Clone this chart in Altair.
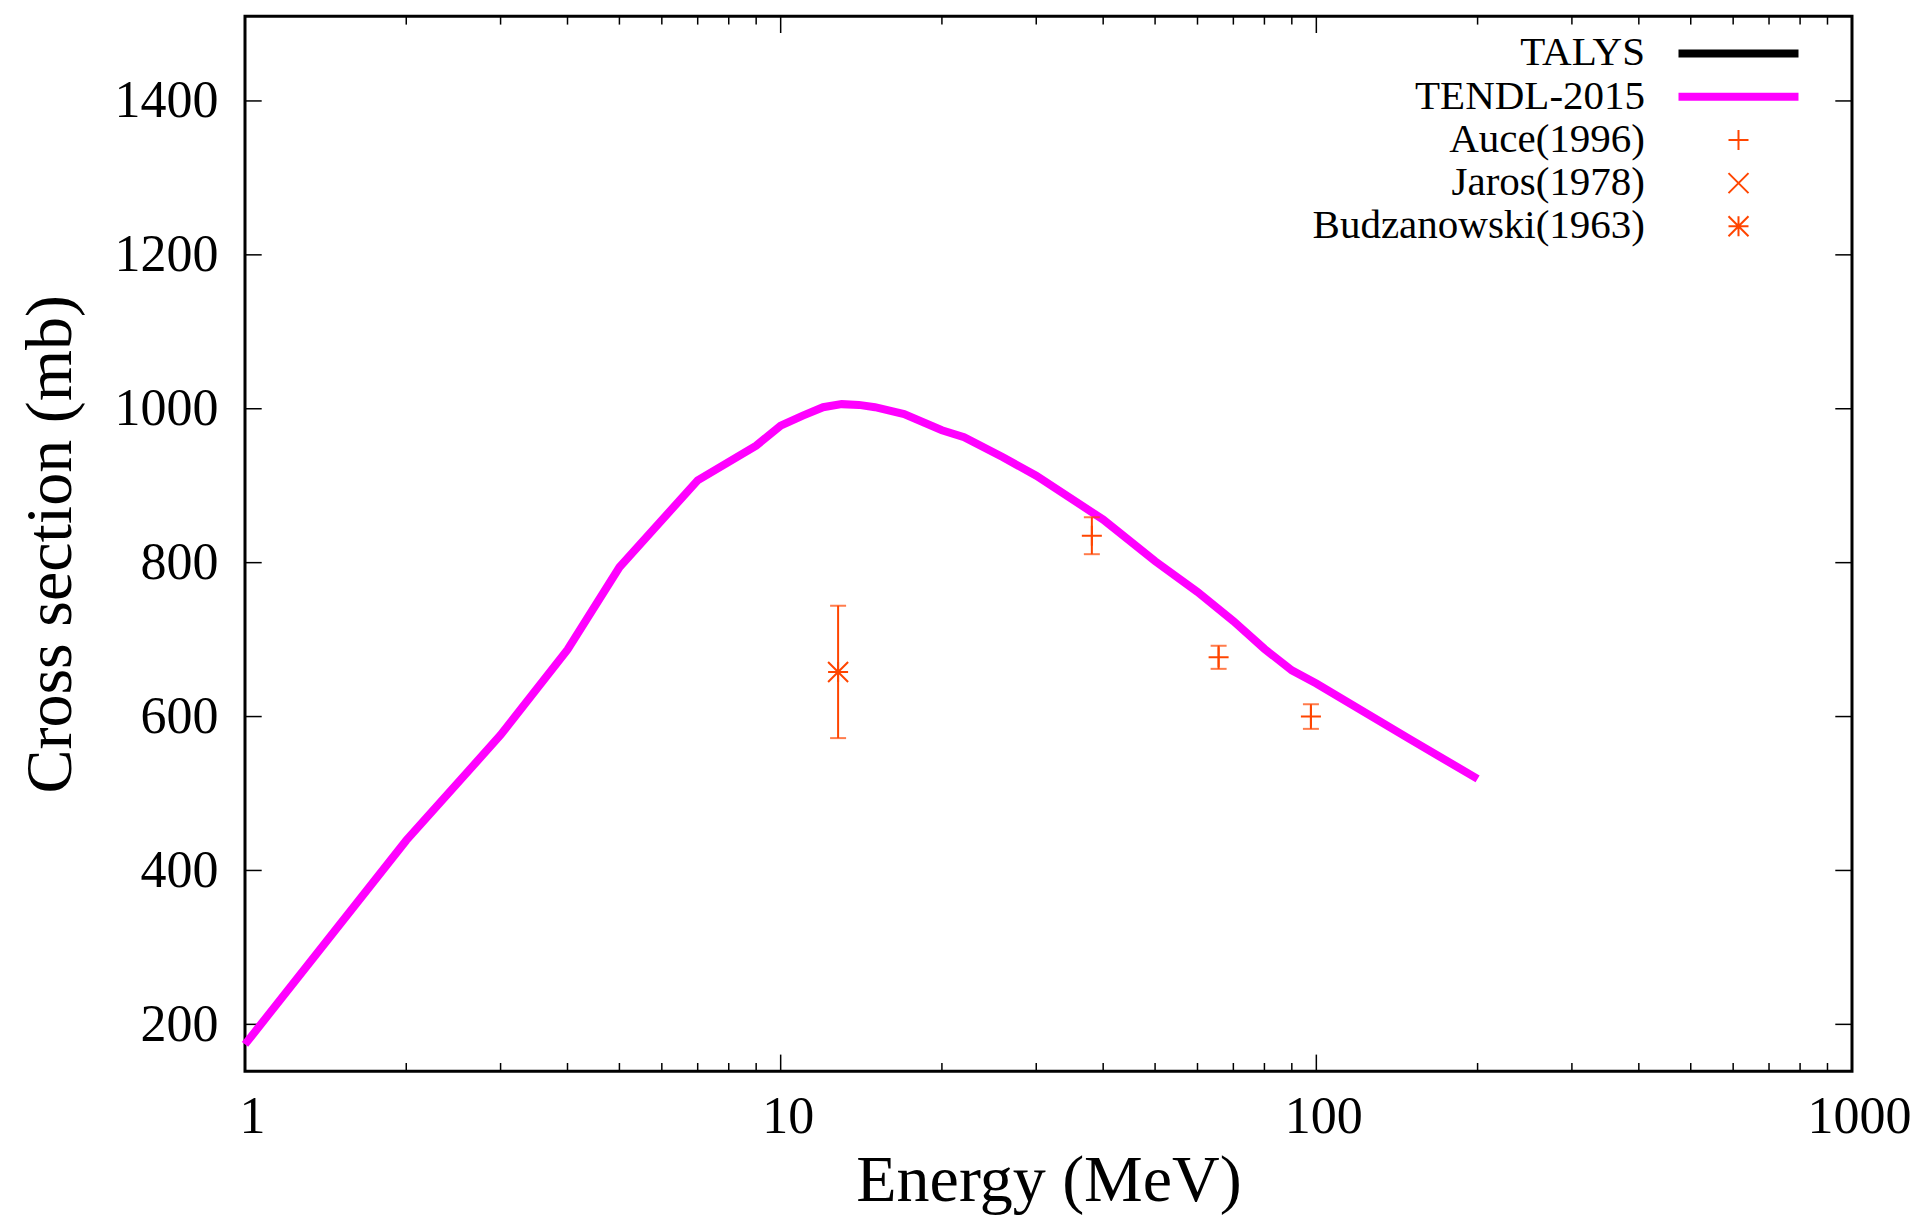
import altair as alt
import pandas as pd

# ---------------- data ----------------
tendl_energy = [1, 2, 3, 4, 5, 7, 9, 10, 11, 12, 13, 14, 15, 17, 20, 22, 26, 30,
                40, 50, 60, 70, 80, 90, 100, 150, 200]
tendl_xs = [174, 439, 576, 687, 794, 907, 952, 978, 991, 1002, 1006, 1005, 1002,
            993, 972, 963, 937, 913, 856, 802, 762, 724, 688, 660, 643, 570, 519]

auce_energy = [38.1, 65.7, 97.7]
auce_xs = [835, 677, 600]
auce_err = [24, 15, 16]

jaros_energy = []
jaros_xs = []

budz_energy = [12.8]
budz_xs = [658]
budz_err = [86]

series_names = ["TALYS", "TENDL-2015", "Auce(1996)", "Jaros(1978)", "Budzanowski(1963)"]
series_colors = ["#000000", "#ff00ff", "#ff4500", "#ff4500", "#ff4500"]

x_major = [1, 10, 100, 1000]
x_minor = [2, 3, 4, 5, 6, 7, 8, 9, 20, 30, 40, 50, 60, 70, 80, 90,
           200, 300, 400, 500, 600, 700, 800, 900]
y_major = [200, 400, 600, 800, 1000, 1200, 1400]

# ---------------- styling ----------------
W, H = 1607, 1055
FONT = "Liberation Serif"
EXP = "#ff4500"
MAJ, MIN = 16.7, 8.3

PLUS = "M-1,0L1,0M0,-1L0,1"
CROSS = "M-1,-1L1,1M-1,1L1,-1"
STAR = "M-1,0L1,0M0,-1L0,1M-1,-1L1,1M-1,1L1,-1"
LINE_SYM = ("M-6,-0.3L6,-0.3M-6,-0.15L6,-0.15M-6,0L6,0"
            "M-6,0.15L6,0.15M-6,0.3L6,0.3")
series_shapes = [LINE_SYM, LINE_SYM, PLUS, CROSS, STAR]

xscale = alt.Scale(type="log", domain=[1, 1000], nice=False)
yscale = alt.Scale(domain=[139, 1510], nice=False, zero=False)

xaxis = alt.Axis(values=x_major, format="d", title="Energy (MeV)", ticks=False,
                 domain=False, grid=False, labelFont=FONT, labelFontSize=52,
                 labelPadding=20, labelColor="black", labelFlush=False,
                 labelOverlap=False, labelOffset=7, titleFont=FONT,
                 titleFontSize=66, titleFontWeight="normal", titleColor="black",
                 titleX=W / 2, titleY=129, titleBaseline="alphabetic",
                 titleAlign="center")
yaxis = alt.Axis(values=y_major, format="d", title="Cross section (mb)", ticks=False,
                 domain=False, grid=False, labelFont=FONT, labelFontSize=52,
                 labelPadding=27, labelColor="black", labelFlush=False,
                 labelOverlap=False, titleFont=FONT,
                 titleFontSize=66, titleFontWeight="normal", titleColor="black",
                 titleX=-175, titleY=H / 2, titleAngle=270,
                 titleBaseline="alphabetic", titleAlign="center")


def X(f):
    return alt.X(f"{f}:Q", scale=xscale, axis=xaxis)


def Y(f):
    return alt.Y(f"{f}:Q", scale=yscale, axis=yaxis)


# ---------------- tables ----------------
tendl_df = pd.DataFrame({"E": tendl_energy, "xs": tendl_xs})
auce_df = pd.DataFrame({"E": auce_energy, "xs": auce_xs, "err": auce_err})
auce_df["lo"] = auce_df["xs"] - auce_df["err"]
auce_df["hi"] = auce_df["xs"] + auce_df["err"]
budz_df = pd.DataFrame({"E": budz_energy, "xs": budz_xs, "err": budz_err})
budz_df["lo"] = budz_df["xs"] - budz_df["err"]
budz_df["hi"] = budz_df["xs"] + budz_df["err"]
legend_df = pd.DataFrame({"series": series_names,
                          "E": [None] * len(series_names),
                          "xs": [None] * len(series_names)})

# ---------------- layers ----------------
tendl_line = alt.Chart(tendl_df).mark_line(color="#ff00ff", strokeWidth=8).encode(
    x=X("E"), y=Y("xs"))


def exp_layers(df, shape):
    bars = alt.Chart(df).mark_rule(color=EXP, strokeWidth=2).encode(
        x=X("E"), y=Y("lo"), y2="hi:Q")
    cap_lo = alt.Chart(df).mark_tick(color=EXP, orient="horizontal", size=16,
                                     thickness=2).encode(x=X("E"), y=Y("lo"))
    cap_hi = alt.Chart(df).mark_tick(color=EXP, orient="horizontal", size=16,
                                     thickness=2).encode(x=X("E"), y=Y("hi"))
    pts = alt.Chart(df).mark_point(shape=shape, filled=False, color=EXP,
                                   strokeWidth=2, size=400, opacity=1).encode(
        x=X("E"), y=Y("xs"))
    return [bars, cap_lo, cap_hi, pts]


legend_layer = alt.Chart(legend_df).mark_point(filled=False, strokeWidth=2,
                                               size=400, opacity=1).encode(
    x=X("E"), y=Y("xs"),
    color=alt.Color("series:N",
                    scale=alt.Scale(domain=series_names, range=series_colors),
                    legend=alt.Legend(title=None)),
    shape=alt.Shape("series:N",
                    scale=alt.Scale(domain=series_names, range=series_shapes),
                    legend=alt.Legend(title=None)),
)

tick_rule = dict(color="black", strokeWidth=1.5)
xmaj_df = pd.DataFrame({"E": x_major})
xmin_df = pd.DataFrame({"E": x_minor})
ymaj_df = pd.DataFrame({"v": y_major})
ticks = [
    alt.Chart(xmaj_df).mark_rule(**tick_rule).encode(x=X("E"), y=alt.value(H), y2=alt.value(H - MAJ)),
    alt.Chart(xmaj_df).mark_rule(**tick_rule).encode(x=X("E"), y=alt.value(0), y2=alt.value(MAJ)),
    alt.Chart(xmin_df).mark_rule(**tick_rule).encode(x=X("E"), y=alt.value(H), y2=alt.value(H - MIN)),
    alt.Chart(xmin_df).mark_rule(**tick_rule).encode(x=X("E"), y=alt.value(0), y2=alt.value(MIN)),
    alt.Chart(ymaj_df).mark_rule(**tick_rule).encode(y=Y("v"), x=alt.value(0), x2=alt.value(MAJ)),
    alt.Chart(ymaj_df).mark_rule(**tick_rule).encode(y=Y("v"), x=alt.value(W), x2=alt.value(W - MAJ)),
]

layers = ticks + [tendl_line] + exp_layers(auce_df, PLUS) + exp_layers(budz_df, STAR) + [legend_layer]

chart = alt.layer(*layers).properties(
    width=W, height=H,
    autosize=alt.AutoSizeParams(type="none"),
    padding={"left": 237, "top": 8.3, "right": 60, "bottom": 148},
    background="white",
).configure_view(
    stroke="black", strokeWidth=3
).configure_legend(
    orient="none", legendX=1265, legendY=16.7, padding=0,
    labelFont=FONT, labelFontSize=41, labelColor="black",
    labelAlign="right", labelOffset={"expr": "-114"}, symbolOffset=208,
    labelLimit=1000, symbolSize=400, symbolStrokeWidth=2, rowPadding=1.2,
)

chart.save("out.html", embed_options={"renderer": "svg", "actions": False})
